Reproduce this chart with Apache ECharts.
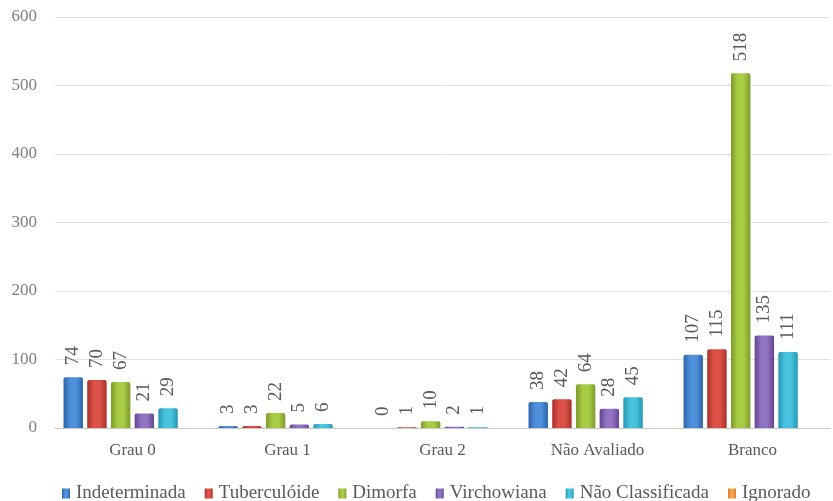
<!DOCTYPE html>
<html>
<head>
<meta charset="utf-8">
<script src="https://cdn.jsdelivr.net/npm/echarts@6/dist/echarts.min.js"></script>
<style>
  html, body { margin: 0; padding: 0; background: #fff; }
  #chart { width: 833px; height: 501px; }
</style>
</head>
<body>
<div id="chart"></div>
<script>
var categories = ['Grau 0', 'Grau 1', 'Grau 2', 'Não Avaliado', 'Branco'];
var indeterminada = [74, 3, 0, 38, 107];
var tuberculoide = [70, 3, 1, 42, 115];
var dimorfa = [67, 22, 10, 64, 518];
var virchowiana = [21, 5, 2, 28, 135];
var naoClassificada = [29, 6, 1, 45, 111];
var ignorado = ['-', '-', '-', '-', '-'];
var yTicks = [0, 100, 200, 300, 400, 500, 600];

var chart = echarts.init(document.getElementById('chart'));

// fake 3D look: darker edges, lighter middle
function shade(dark, light) {
    return new echarts.graphic.LinearGradient(0, 0, 1, 0, [
        { offset: 0, color: dark },
        { offset: 0.35, color: light },
        { offset: 0.65, color: light },
        { offset: 1, color: dark }
    ]);
}

function makeSeries(name, data, dark, light) {
    return {
        name: name,
        type: 'bar',
        data: data,
        barGap: '22%',
        barCategoryGap: '11%',
        itemStyle: { color: shade(dark, light), borderRadius: [2, 2, 0, 0] },
        label: {
            show: true,
            position: 'top',
            rotate: 90,
            align: 'left',
            verticalAlign: 'middle',
            distance: 12,
            color: '#595959',
            fontSize: 19,
            fontFamily: 'Liberation Serif'
        }
    };
}

var option = {
    animation: false,
    textStyle: { fontFamily: 'Liberation Serif' },
    grid: { left: 55, right: 3, top: 17, bottom: 73 },
    legend: {
        top: 479,
        left: 57,
        itemWidth: 8,
        itemHeight: 10,
        itemGap: 19,
        icon: 'rect',
        textStyle: { color: '#595959', fontSize: 19, fontFamily: 'Liberation Serif', padding: [0, 0, 0, 1] },
        data: ['Indeterminada', 'Tuberculóide', 'Dimorfa', 'Virchowiana', 'Não Classificada', 'Ignorado']
    },
    xAxis: {
        type: 'category',
        data: categories,
        axisTick: { show: false },
        axisLine: { lineStyle: { color: '#c8c8c8' } },
        axisLabel: { color: '#595959', fontSize: 17, margin: 14 }
    },
    yAxis: {
        type: 'value',
        min: yTicks[0],
        max: yTicks[yTicks.length - 1],
        interval: 100,
        axisLine: { show: false },
        axisTick: { show: false },
        axisLabel: { color: '#7f7f7f', fontSize: 17, margin: 18 },
        splitLine: { lineStyle: { color: '#e0e0e0' } }
    },
    series: [
        makeSeries('Indeterminada', indeterminada, '#2c63a8', '#4f90dc'),
        makeSeries('Tuberculóide', tuberculoide, '#a8302a', '#dd5248'),
        makeSeries('Dimorfa', dimorfa, '#7e9a2c', '#a9cc45'),
        makeSeries('Virchowiana', virchowiana, '#624590', '#9272c2'),
        makeSeries('Não Classificada', naoClassificada, '#2596b2', '#48c4e0'),
        makeSeries('Ignorado', ignorado, '#d9792a', '#f7a04e')
    ]
};

chart.setOption(option);
</script>
</body>
</html>
